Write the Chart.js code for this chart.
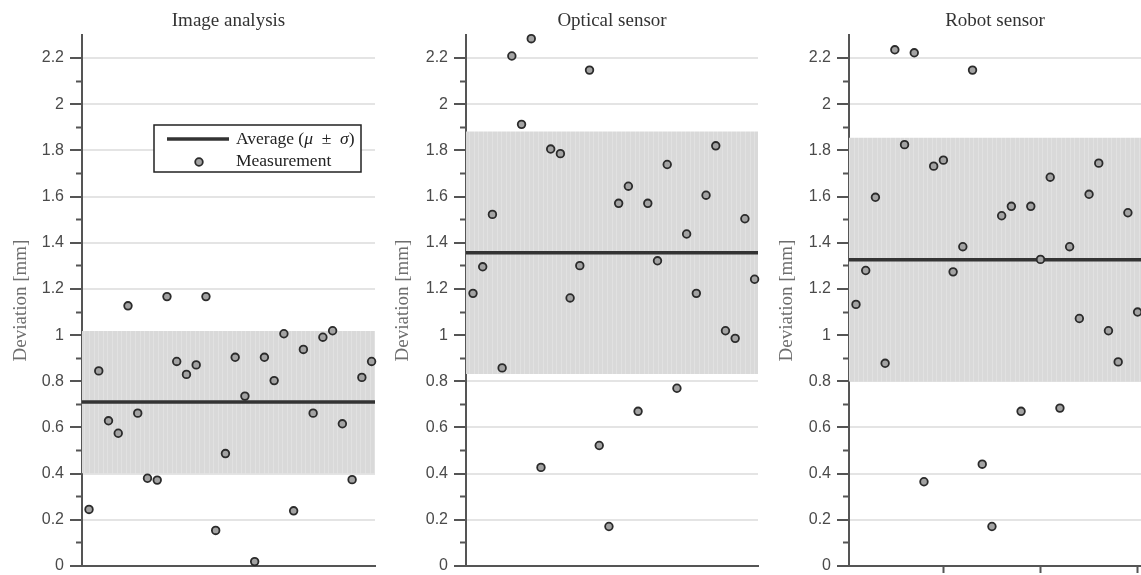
<!DOCTYPE html>
<html>
<head>
<meta charset="utf-8">
<script src="https://cdn.jsdelivr.net/npm/chart.js@4.4.1/dist/chart.umd.min.js"></script>
<style>
  body { margin: 0; background: #fff; }
  .row { display: flex; width: 1141px; height: 575px; }
  canvas { display: block; }
</style>
</head>
<body>
<div class="row">
  <canvas id="imageChart" width="380" height="575"></canvas>
  <canvas id="opticalChart" width="380" height="575"></canvas>
  <canvas id="robotChart" width="381" height="575"></canvas>
</div>
<script>
const runs = [1, 2, 3, 4, 5, 6, 7, 8, 9, 10, 11, 12, 13, 14, 15, 16, 17, 18, 19, 20, 21, 22, 23, 24, 25, 26, 27, 28, 29, 30];

const imageAnalysis = [0.245, 0.845, 0.629, 0.575, 1.127, 0.662, 0.380, 0.372, 1.167, 0.886,
  0.830, 0.871, 1.167, 0.154, 0.487, 0.904, 0.736, 0.019, 0.904, 0.803,
  1.006, 0.239, 0.938, 0.662, 0.991, 1.019, 0.616, 0.374, 0.817, 0.886];
const opticalSensor = [1.181, 1.296, 1.523, 0.858, 2.209, 1.913, 2.284, 0.427, 1.806, 1.786,
  1.161, 1.301, 2.148, 0.522, 0.171, 1.571, 1.645, 0.670, 1.571, 1.322,
  1.739, 0.770, 1.438, 1.181, 1.606, 1.820, 1.019, 0.986, 1.504, 1.242];
const robotSensor = [1.133, 1.280, 1.597, 0.878, 2.236, 1.825, 2.223, 0.365, 1.732, 1.758,
  1.274, 1.383, 2.148, 0.441, 0.171, 1.517, 1.558, 0.670, 1.558, 1.328,
  1.684, 0.684, 1.383, 1.072, 1.610, 1.745, 1.019, 0.884, 1.530, 1.100];

// mean and standard deviation per sensor
const averages = [0.710, 1.357, 1.327];
const sigmas = [0.308, 0.525, 0.528];

const panelTitles = ["Image analysis", "Optical sensor", "Robot sensor"];
const yMajorTicks = [0, 0.2, 0.4, 0.6, 0.8, 1, 1.2, 1.4, 1.6, 1.8, 2, 2.2];
const yMinorTicks = [0.1, 0.3, 0.5, 0.7, 0.9, 1.1, 1.3, 1.5, 1.7, 1.9, 2.1];
const robotXTicks = [10, 20, 30];

const X_MIN = 0.28;
const X_MAX = 30.35;
const Y_MAX = 2.3;

Chart.defaults.font.family = "Liberation Sans";

// light grey fill with faint vertical streaks
const makeBandFill = () => {
  const c = document.createElement("canvas");
  c.width = 23;
  c.height = 8;
  const g = c.getContext("2d");
  g.fillStyle = "#d9d9d9";
  g.fillRect(0, 0, 23, 8);
  g.fillStyle = "#e1e1e1";
  [2, 6, 11, 15, 20].forEach((x) => g.fillRect(x, 0, 1, 8));
  return g.createPattern(c, "repeat");
};

const panelTitle = (text) => ({
  id: "panelTitle",
  afterDraw(chart) {
    const { ctx, chartArea } = chart;
    ctx.save();
    ctx.font = "19px 'Liberation Serif'";
    ctx.fillStyle = "#333";
    ctx.textAlign = "center";
    ctx.fillText(text, (chartArea.left + chartArea.right) / 2, 26);
    ctx.restore();
  },
});

const legendBox = {
  id: "legendBox",
  afterDatasetsDraw(chart) {
    const { ctx, chartArea } = chart;
    const left = chartArea.left + 72;
    const top = chartArea.top + 90;
    ctx.save();
    ctx.fillStyle = "#fff";
    ctx.fillRect(left, top, 207, 47);
    ctx.strokeStyle = "#222";
    ctx.lineWidth = 1.5;
    ctx.strokeRect(left, top, 207, 47);

    ctx.strokeStyle = "#333";
    ctx.lineWidth = 3.5;
    ctx.beginPath();
    ctx.moveTo(left + 13, top + 14);
    ctx.lineTo(left + 75, top + 14);
    ctx.stroke();

    ctx.beginPath();
    ctx.arc(left + 45, top + 37, 3.8, 0, Math.PI * 2);
    ctx.fillStyle = "#a3a3a3";
    ctx.fill();
    ctx.lineWidth = 1.8;
    ctx.strokeStyle = "#2b2b2b";
    ctx.stroke();

    ctx.fillStyle = "#222";
    let x = left + 82;
    const parts = [["Average (", false], ["μ", true], ["  ±  ", false], ["σ", true], [")", false]];
    parts.forEach(([t, italic]) => {
      ctx.font = (italic ? "italic " : "") + "17.5px 'Liberation Serif'";
      ctx.fillText(t, x, top + 19);
      x += ctx.measureText(t).width;
    });
    ctx.font = "17.5px 'Liberation Serif'";
    ctx.fillText("Measurement", left + 82, top + 41);
    ctx.restore();
  },
};

const drawPanel = (id, n, values, axisLeft, titleOffset, rightPad, xTicks, extra) => {
  const avg = averages[n];
  const sigma = sigmas[n];
  const plugins = [panelTitle(panelTitles[n])].concat(extra);

  new Chart(id, {
    type: "scatter",
    data: {
      datasets: [
        {
          label: "Measurement",
          data: runs.map((r, i) => ({ x: r, y: values[i] })),
          pointRadius: 3.8,
          pointBackgroundColor: "#a3a3a3",
          pointBorderColor: "#2b2b2b",
          pointBorderWidth: 1.8,
          showLine: false,
          clip: false,
          order: 0,
        },
        {
          type: "line",
          label: "Average",
          data: [{ x: X_MIN, y: avg }, { x: X_MAX, y: avg }],
          borderColor: "#333",
          borderWidth: 3.5,
          pointRadius: 0,
          order: 1,
        },
        {
          type: "line",
          data: [{ x: X_MIN - 0.3, y: avg + sigma }, { x: X_MAX, y: avg + sigma }],
          borderWidth: 0,
          pointRadius: 0,
          fill: "+1",
          backgroundColor: makeBandFill(),
          order: 2,
        },
        {
          type: "line",
          data: [{ x: X_MIN - 0.3, y: avg - sigma }, { x: X_MAX, y: avg - sigma }],
          borderWidth: 0,
          pointRadius: 0,
          fill: false,
          order: 3,
        },
      ],
    },
    options: {
      responsive: false,
      animation: false,
      layout: { autoPadding: false, padding: { top: 35, right: rightPad, left: 0, bottom: 0 } },
      plugins: { legend: { display: false }, tooltip: { enabled: false } },
      scales: {
        x: {
          type: "linear",
          min: X_MIN,
          max: X_MAX,
          afterBuildTicks: (s) => { s.ticks = xTicks.map((v) => ({ value: v })); },
          afterFit: (s) => {
            s.height = 9;
            s.paddingLeft = 0;
            s.paddingRight = 0;
          },
          ticks: { display: false },
          grid: { drawOnChartArea: false, drawTicks: xTicks.length > 0, tickColor: "#555", tickWidth: 2, tickLength: 7 },
          border: { color: "#555", width: 2 },
        },
        y: {
          type: "linear",
          position: "left",
          weight: 1,
          min: 0,
          max: Y_MAX,
          afterBuildTicks: (s) => { s.ticks = yMajorTicks.map((v) => ({ value: v })); },
          afterFit: (s) => {
            s.width = axisLeft;
            s.paddingTop = 0;
            s.paddingBottom = 0;
          },
          ticks: {
            padding: 6,
            color: "#4a4a4a",
            font: { family: "Liberation Sans", size: 16 },
            callback: (v) => String(Number(v.toFixed(1))),
          },
          grid: {
            color: (c) => (c.tick && c.tick.value === 0 ? "rgba(0,0,0,0)" : "#e4e4e4"),
            lineWidth: 2,
            tickColor: "#555",
            tickWidth: 2,
            tickLength: 12,
          },
          border: { color: "#555", width: 2 },
          title: {
            display: true,
            text: "Deviation [mm]",
            color: "#6e6e6e",
            font: { family: "Liberation Serif", size: 19 },
            padding: { top: titleOffset - 11.4, bottom: 0 },
          },
        },
        yMinor: {
          type: "linear",
          position: "left",
          weight: 0,
          min: 0,
          max: Y_MAX,
          afterBuildTicks: (s) => { s.ticks = yMinorTicks.map((v) => ({ value: v })); },
          afterFit: (s) => {
            s.width = 0;
            s.paddingTop = 0;
            s.paddingBottom = 0;
          },
          ticks: { display: false },
          grid: { drawOnChartArea: false, tickColor: "#555", tickWidth: 2, tickLength: 6 },
          border: { display: false },
        },
      },
    },
    plugins: plugins,
  });
};

drawPanel("imageChart", 0, imageAnalysis, 82, 21, 5, [], [legendBox]);
drawPanel("opticalChart", 1, opticalSensor, 86, 23, 2, [], []);
drawPanel("robotChart", 2, robotSensor, 89, 27, 0, robotXTicks, []);
</script>
</body>
</html>
